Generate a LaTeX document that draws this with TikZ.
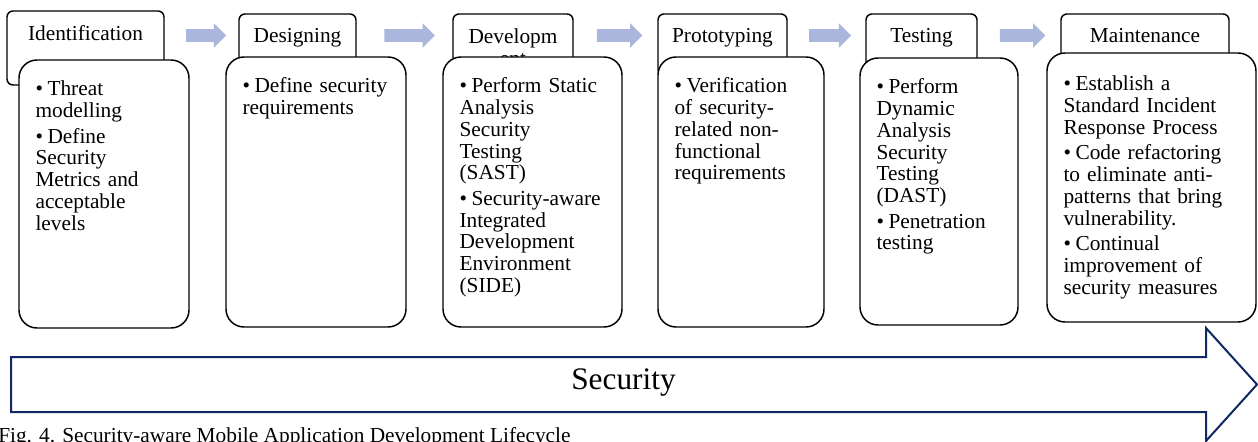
\documentclass[tikz,border=0pt]{standalone}
\usepackage{fontspec}
\setmainfont{Liberation Serif}
\usetikzlibrary{positioning,fit,shapes.arrows}

\definecolor{stepblue}{RGB}{170,182,219}
\definecolor{navy}{RGB}{16,40,100}

\tikzset{
    tab/.style={draw, line width=1.1pt, fill=white, rounded corners=4.5pt, inner sep=0pt},
    phase/.style={draw, line width=1.1pt, fill=white, rounded corners=13.5pt, inner sep=0pt},
    title/.style={inner sep=0pt, font=\fontsize{16}{16.3}\selectfont},
    list/.style={inner sep=0pt, text width=125pt, align=left,
        font=\fontsize{16}{16.3}\selectfont\setlength{\parskip}{2.8pt}},
    next/.style={single arrow, fill=stepblue, draw=none, inner xsep=0pt, inner ysep=4.5pt,
        single arrow head extend=4.5pt},
    bigarrow/.style={draw=navy, line width=1.5pt, fill=white}
}

\newcommand{\bitem}[1]{\par\hangindent=9pt\hangafter=1\noindent
    \makebox[9pt][l]{\textbullet}\strut#1}

\begin{document}
\begin{tikzpicture}[x=0.75pt, y=-0.75pt]
\useasboundingbox (0,0) rectangle (1258,442);

% Tabs with phase names
\node[tab, fit={(7,11) (164,85)}] (tabI) {};
\node[title, anchor=base] (titleI) at (85.5,41) {Identification};
\node[tab, fit={(239,14) (356,75)}] (tabD) {};
\node[title, anchor=base] (titleD) at (297.5,43) {Designing};
\node[tab, fit={(453,14) (573,75)}] (tabDev) {};
\node[title, anchor=north, align=center] (titleDev) at (513,28.4) {Developm\\ent};
\node[tab, fit={(658,14) (787,75)}] (tabP) {};
\node[title, anchor=base] (titleP) at (722.5,43) {Prototyping};
\node[tab, fit={(866,14) (977,75)}] (tabT) {};
\node[title, anchor=base] (titleT) at (921.5,43) {Testing};
\node[tab, fit={(1061,14) (1229,75)}] (tabM) {};
\node[title, anchor=base] (titleM) at (1145,43) {Maintenance};

% Arrows between tabs
\node[next, minimum height=30pt] (n1) at (203,35.5) {};
\node[next, minimum height=38pt] (n2) at (406.5,35.5) {};
\node[next, minimum height=34pt] (n3) at (616.5,35.5) {};
\node[next, minimum height=31.5pt] (n4) at (827,35.5) {};
\node[next, minimum height=34pt] (n5) at (1019.5,35.5) {};

% Phase boxes
\node[phase, fit={(19,60) (189,328)}] (bodyI) {};
\node[phase, fit={(226,57) (406,327)}] (bodyD) {};
\node[phase, fit={(443,57) (622,327)}] (bodyDev) {};
\node[phase, fit={(658,57) (824,327)}] (bodyP) {};
\node[phase, fit={(860,58) (1018,325)}] (bodyT) {};
\node[phase, fit={(1047,53) (1256,322)}] (bodyM) {};

% Activities
\node[list, below right=8.25pt and 12.75pt of bodyI.north west] (listI) {%
    \bitem{Threat\\modelling}
    \bitem{Define\\Security\\Metrics and\\acceptable\\levels}};
\node[list, below right=8.25pt and 12.75pt of bodyD.north west] (listD) {%
    \bitem{Define security\\requirements}};
\node[list, below right=8.25pt and 12.75pt of bodyDev.north west] (listDev) {%
    \bitem{Perform Static\\Analysis\\Security\\Testing\\(SAST)}
    \bitem{Security-aware\\Integrated\\Development\\Environment\\(SIDE)}};
\node[list, below right=8.25pt and 12.75pt of bodyP.north west] (listP) {%
    \bitem{Verification\\of security-\\related non-\\functional\\requirements}};
\node[list, below right=8.25pt and 12.75pt of bodyT.north west] (listT) {%
    \bitem{Perform\\Dynamic\\Analysis\\Security\\Testing\\(DAST)}
    \bitem{Penetration\\testing}};
\node[list, below right=9.75pt and 12.75pt of bodyM.north west] (listM) {%
    \bitem{Establish a\\Standard Incident\\Response Process}
    \bitem{Code refactoring\\to eliminate anti-\\patterns that bring\\vulnerability.}
    \bitem{Continual\\improvement of\\security measures}};

% Security arrow
\draw[bigarrow] (11,357) -- (1206,357) -- (1206,328) -- (1257,384.5)
    -- (1206,441) -- (1206,412) -- (11,412) -- cycle;
\node[anchor=base, inner sep=0pt, font=\fontsize{23.5}{28}\selectfont] (security) at (623.5,389) {Security};

% Caption
\node[anchor=base west, inner sep=0pt, font=\fontsize{16}{19}\selectfont] (caption) at (-2,442.5)
    {Fig. 4. Security-aware Mobile Application Development Lifecycle};
\end{tikzpicture}
\end{document}
